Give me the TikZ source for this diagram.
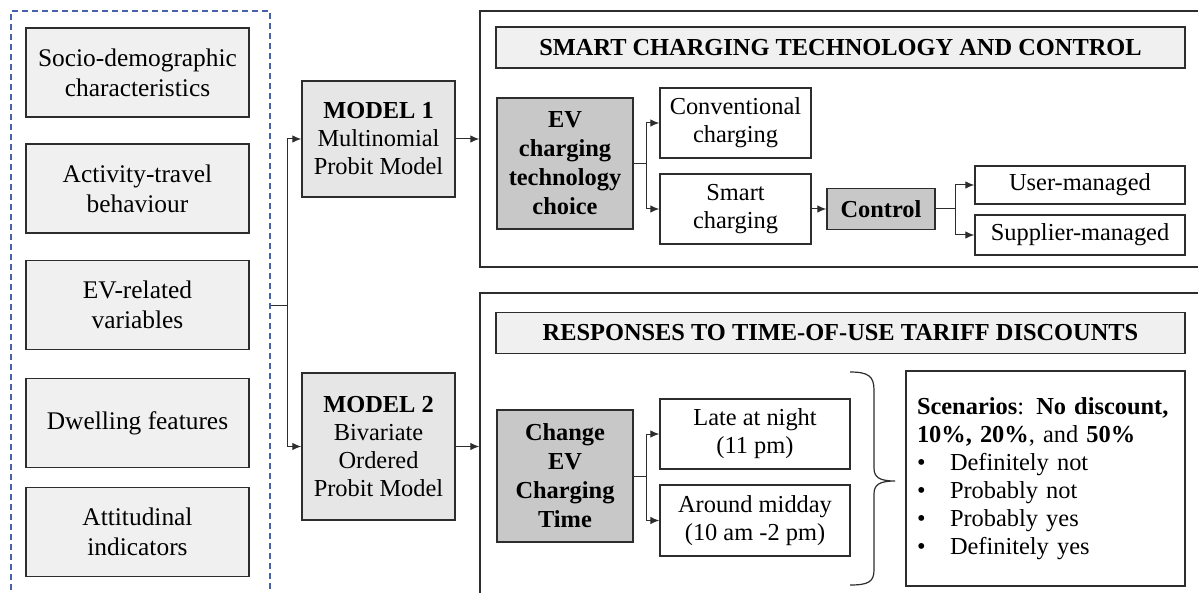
\documentclass[tikz,border=0pt]{standalone}
\usepackage{fontspec}
\setmainfont{Liberation Serif}
\usetikzlibrary{arrows.meta}
\definecolor{framegray}{RGB}{45,45,45}
\definecolor{lightfill}{RGB}{240,240,240}
\definecolor{modelfill}{RGB}{230,230,230}
\definecolor{darkfill}{RGB}{200,200,200}
\definecolor{dashblue}{RGB}{72,98,170}

\begin{document}
\begin{tikzpicture}[x=0.5pt,y=-0.5pt,
  every node/.style={font=\fontsize{12.2}{14}\selectfont, align=center, inner sep=0pt},
  varsframe/.style={draw=dashblue, line width=0.6pt, dash pattern=on 3pt off 2pt, minimum width=129.5pt, minimum height=294.5pt},
  varbox/.style={draw=framegray, line width=0.75pt, fill=lightfill, minimum width=111.5pt, minimum height=44.5pt, font=\fontsize{12.7}{15}\selectfont},
  modelbox/.style={draw=framegray, line width=0.75pt, fill=modelfill, minimum width=76.5pt},
  outerframe/.style={draw=framegray, line width=0.75pt, minimum width=362.5pt},
  titlebox/.style={draw=framegray, line width=0.75pt, fill=lightfill, minimum width=344.5pt, minimum height=20.5pt, font=\fontsize{12.2}{14}\selectfont\bfseries},
  choicebox/.style={draw=framegray, line width=0.75pt, fill=darkfill, minimum width=68pt, font=\fontsize{12.2}{14.5}\selectfont\bfseries},
  optbox/.style={draw=framegray, line width=0.75pt, fill=white},
  link/.style={draw=framegray, line width=0.5pt},
  arr/.style={link, -{Latex[length=4.5pt,width=3.8pt]}}
]
\useasboundingbox (0,0) rectangle (1198,593);

% dashed frame round the explanatory variables
\node[varsframe] (vars) at (140.5,305.5) {};
% explanatory variables
\foreach \name/\y/\txt in {socio/72.5/{Socio-demographic\\characteristics},
  travel/188.5/{Activity-travel\\behaviour},
  evvar/305/{EV-related\\variables},
  dwell/423/{Dwelling features},
  attit/532/{Attitudinal\\indicators}}
  \node[varbox] (\name) at (137.5,\y) {\txt};

% the two models
\node[modelbox, minimum height=58pt] (model1) at (378.5,139)
  {\textbf{MODEL 1}\\Multinomial\\Probit Model};
\node[modelbox, minimum height=73.5pt] (model2) at (378.5,446.5)
  {\textbf{MODEL 2}\\Bivariate\\Ordered\\Probit Model};

% outer frames of the two outcomes
\node[outerframe, minimum height=128pt] (smartframe) at (842.5,139) {};
\node[outerframe, minimum height=156pt] (tariffframe) at (842.5,449) {};

% smart charging technology and control
\node[titlebox] (smarttitle) at (840.5,47.5) {SMART CHARGING TECHNOLOGY AND CONTROL};
\node[choicebox, minimum height=65.5pt] (evchoice) at (565,163.5)
  {EV\\charging\\technology\\choice};
\node[optbox, minimum width=75.5pt, minimum height=35pt] (conv) at (735.5,123)
  {Conventional\\charging};
\node[optbox, minimum width=75.5pt, minimum height=35pt] (smart) at (735.5,209)
  {Smart\\charging};
\node[choicebox, minimum width=54pt, minimum height=20.5pt] (control) at (881,209)
  {Control};
\node[optbox, minimum width=105pt, minimum height=19pt] (user) at (1080,185)
  {User-managed};
\node[optbox, minimum width=105pt, minimum height=20pt] (supplier) at (1080,235)
  {Supplier-managed};

% responses to time-of-use tariff discounts
\node[titlebox] (tarifftitle) at (840.5,333) {RESPONSES TO TIME-OF-USE TARIFF DISCOUNTS};
\node[choicebox, minimum height=66pt] (change) at (565,476)
  {Change\\EV\\Charging\\Time};
\node[optbox, minimum width=95pt, minimum height=35pt] (late) at (755,434)
  {Late at night\\(11 pm)};
\node[optbox, minimum width=95pt, minimum height=35.5pt] (midday) at (755,520.5)
  {Around midday\\(10 am -2 pm)};
\node[optbox, text width=128.5pt, inner xsep=5.5pt, minimum height=107.5pt, align=left] (scen) at (1045.5,478.5)
  {\textbf{Scenarios}: \textbf{No discount,}\\
   \textbf{10\%, 20\%}, and \textbf{50\%}\\
   \makebox[16.5pt][l]{\textbullet}Definitely not\\
   \makebox[16.5pt][l]{\textbullet}Probably not\\
   \makebox[16.5pt][l]{\textbullet}Probably yes\\
   \makebox[16.5pt][l]{\textbullet}Definitely yes};
\coordinate (bracetop) at (850,372);
\coordinate (bracetip) at (895,481);
\coordinate (bracebot) at (850,585);

% connectors
\draw[arr] (vars.east) -- ++(17,0) |- (model1.west);
\draw[arr] (vars.east) -- ++(17,0) |- (model2.west);
\draw[arr] (model1.east) -- (model1.east -| smartframe.west);
\draw[arr] (model2.east) -- (model2.east -| tariffframe.west);
\draw[arr] (evchoice.east) -- ++(13,0) |- (conv.west);
\draw[arr] (evchoice.east) -- ++(13,0) |- (smart.west);
\draw[arr] (smart.east) -- (control.west);
\draw[arr] (control.east) -- ++(20,0) |- (user.west);
\draw[arr] (control.east) -- ++(20,0) |- (supplier.west);
\draw[arr] (change.east) -- ++(13,0) |- (late.west);
\draw[arr] (change.east) -- ++(13,0) |- (midday.west);
% brace towards the scenarios
\draw[link, line width=0.6pt] (bracetop) .. controls (868,372) and (874,376) .. (874,390)
  -- (874,468) .. controls (874,477) and (879,481) .. (bracetip)
  .. controls (879,481) and (874,485) .. (874,494)
  -- (874,570) .. controls (874,582) and (868,585) .. (bracebot);
\end{tikzpicture}
\end{document}
